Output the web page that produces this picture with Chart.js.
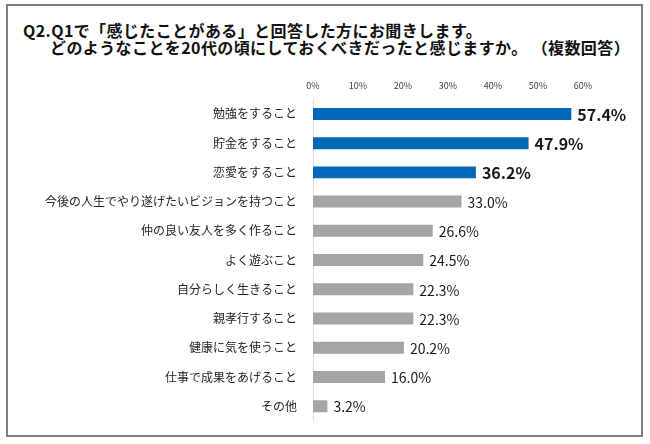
<!DOCTYPE html>
<html lang="ja">
<head>
<meta charset="utf-8">
<title>Q2 20代の頃にしておくべきだったこと</title>
<script src="https://cdn.jsdelivr.net/npm/chart.js@4/dist/chart.umd.min.js"></script>
<style>
    html, body { margin: 0; padding: 0; background: #fff; }
    .wrap { position: relative; width: 650px; height: 444px; overflow: hidden; }
    .frame {
        position: absolute; left: 6px; top: 4px; width: 633px; height: 429px;
        border: 2px solid #7f7f7f;
    }
    .title {
        position: absolute; left: 23px; top: 22px;
        font-family: "Noto Sans CJK JP", sans-serif; font-weight: bold;
        font-size: 16px; line-height: 17px; letter-spacing: 0.4px;
        color: #111; white-space: nowrap;
    }
    .title .l2 { padding-left: 27px; }
    canvas { position: absolute; left: 0; top: 0; }
</style>
</head>
<body>
<div class="wrap">
    <div class="frame"></div>
    <div class="title">
        <div>Q2.Q1で「感じたことがある」と回答した方にお聞きします。</div>
        <div class="l2">どのようなことを20代の頃にしておくべきだったと感じますか。 （複数回答）</div>
    </div>
    <canvas id="chart" width="650" height="444"></canvas>
</div>
<script>
// answers, in the order shown (top to bottom)
const categories = [
    '勉強をすること',
    '貯金をすること',
    '恋愛をすること',
    '今後の人生でやり遂げたいビジョンを持つこと',
    '仲の良い友人を多く作ること',
    'よく遊ぶこと',
    '自分らしく生きること',
    '親孝行すること',
    '健康に気を使うこと',
    '仕事で成果をあげること',
    'その他'
];
const percents = [57.4, 47.9, 36.2, 33.0, 26.6, 24.5, 22.3, 22.3, 20.2, 16.0, 3.2];
const axisTicks = [0, 10, 20, 30, 40, 50, 60];

const topCount = 3; // first three are highlighted in blue
const BLUE = '#0068b7';
const GRAY = '#a5a5a5';
const FONT = '"Noto Sans CJK JP", sans-serif';

// draws "57.4%" etc. just after each bar
const valueLabels = {
    id: 'valueLabels',
    afterDatasetsDraw(chart) {
        const ctx = chart.ctx;
        const meta = chart.getDatasetMeta(0);
        ctx.save();
        ctx.textAlign = 'left';
        ctx.textBaseline = 'middle';
        ctx.fillStyle = '#1a1a1a';
        meta.data.forEach((bar, i) => {
            ctx.font = i < topCount ? `bold 16px ${FONT}` : `14px ${FONT}`;
            ctx.fillText(percents[i].toFixed(1) + '%', bar.x + 6, bar.y + 1);
        });
        ctx.restore();
    }
};

const ctx = document.getElementById('chart').getContext('2d');
new Chart(ctx, {
    type: 'bar',
    data: {
        labels: categories,
        datasets: [{
            data: percents,
            backgroundColor: percents.map((v, i) => i < topCount ? BLUE : GRAY),
            borderWidth: 0,
            barPercentage: 0.41,
            categoryPercentage: 1
        }]
    },
    options: {
        indexAxis: 'y',
        responsive: false,
        animation: false,
        layout: { padding: { top: 70, right: 67, bottom: 21, left: 0 } },
        plugins: {
            legend: { display: false },
            tooltip: { enabled: false }
        },
        scales: {
            x: {
                position: 'top',
                min: axisTicks[0],
                max: axisTicks[axisTicks.length - 1],
                afterFit(scale) { scale.height = 29.3; },
                afterBuildTicks(scale) { scale.ticks = axisTicks.map(v => ({ value: v })); },
                ticks: {
                    padding: 8,
                    color: '#404040',
                    font: { family: FONT, size: 9 },
                    callback: v => v + '%'
                },
                grid: { display: false, drawTicks: false },
                border: { display: false }
            },
            y: {
                afterFit(scale) { scale.width = 313; },
                ticks: {
                    padding: 16,
                    color: '#262626',
                    font: { family: FONT, size: 12 }
                },
                grid: { display: false, drawTicks: false },
                border: { display: true, color: '#dcdcdc', width: 1 }
            }
        }
    },
    plugins: [valueLabels]
});
</script>
</body>
</html>
